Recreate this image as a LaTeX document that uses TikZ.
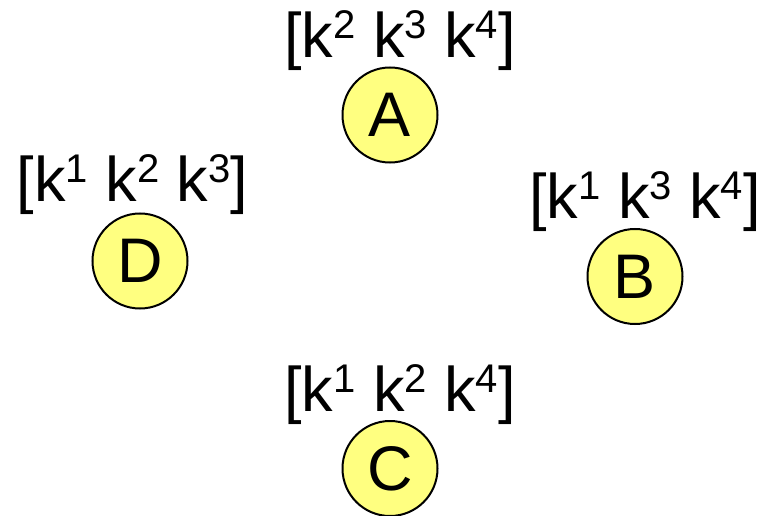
\documentclass[tikz,border=0pt]{standalone}
\usepackage{fontspec}
\setmainfont{Liberation Sans}
\definecolor{nodefill}{RGB}{255,255,128}
\newcommand\bigfont{\fontsize{63}{63}\selectfont}
\newcommand\kp[1]{k\raisebox{19pt}{\fontsize{40}{40}\selectfont #1}}
\tikzset{
  peer/.style={circle, draw=black, line width=2pt, fill=nodefill,
    minimum size=95pt, inner sep=0pt, font=\bigfont},
  keys/.style={anchor=base, inner sep=0pt, font=\bigfont}
}
\begin{document}
\begin{tikzpicture}[x=1pt,y=1pt]
  \useasboundingbox (0,0) rectangle (763,515);
  % peers (y measured downward from the top edge)
  \node[peer] (A) at (390,515-115) {A};
  \node[peer] (B) at (635,515-276.5) {B};
  \node[peer] (C) at (390,515-468.5) {C};
  \node[peer] (D) at (140,515-261) {D};
  % key sets held by each peer
  \node[keys] (kA) at (400,515-58) {[\kp{2} \kp{3} \kp{4}]};
  \node[keys] (kB) at (645,515-218) {[\kp{1} \kp{3} \kp{4}]};
  \node[keys] (kC) at (400,515-411.7) {[\kp{1} \kp{2} \kp{4}]};
  \node[keys] (kD) at (132.5,515-201.7) {[\kp{1} \kp{2} \kp{3}]};
\end{tikzpicture}
\end{document}
